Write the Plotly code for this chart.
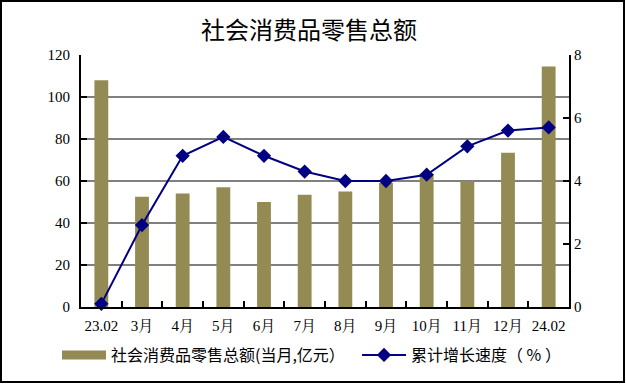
import plotly.graph_objects as go

categories = ["23.02", "3月", "4月", "5月", "6月", "7月", "8月", "9月", "10月", "11月", "12月", "24.02"]
monthly_sales = [108, 52.5, 54, 57, 50, 53.5, 55, 59, 63.5, 60, 73.5, 114.5]
cum_growth = [0.1, 2.6, 4.8, 5.4, 4.8, 4.3, 4.0, 4.0, 4.2, 5.1, 5.6, 5.7]

bar_name = "社会消费品零售总额(当月,亿元）\u00a0\u00a0"
line_name = "累计增长速度（ % ）"
title_text = "社会消费品零售总额"

BAR_COLOR = "#948A54"
LINE_COLOR = "#000080"
serif = "Liberation Serif, Noto Serif CJK SC, Noto Sans CJK SC, serif"
cjk = "Noto Sans CJK SC, sans-serif"

fig = go.Figure()
fig.add_trace(go.Bar(
    x=categories, y=monthly_sales, name=bar_name, showlegend=False,
    marker=dict(color=BAR_COLOR, line=dict(width=0)),
    width=0.34, yaxis="y",
))
# legend entry for the bars, drawn as a wide swatch like the original
fig.add_trace(go.Scatter(
    x=[categories[0]], y=[None], name=bar_name, mode="lines",
    line=dict(color=BAR_COLOR, width=9), yaxis="y", hoverinfo="skip",
))
fig.add_trace(go.Scatter(
    x=categories, y=cum_growth, name=line_name, mode="lines+markers",
    line=dict(color=LINE_COLOR, width=2),
    marker=dict(symbol="diamond", size=11, color=LINE_COLOR),
    yaxis="y2", cliponaxis=False,
))

W, H = 626, 384
L, R, T, B = 81, 57, 55, 77
pw, ph = W - L - R, H - T - B

def px_x(p):
    return (p - L) / pw

def px_y(p):
    return (H - B - p) / ph

fig.update_layout(
    width=W, height=H,
    margin=dict(l=L, r=R, t=T, b=B, pad=0, autoexpand=False),
    paper_bgcolor="white", plot_bgcolor="white",
    title=dict(text=title_text, x=px_x(309), xanchor="center", xref="paper",
               y=1 - 31 / H, yanchor="middle",
               font=dict(family=cjk, size=24, color="black")),
    showlegend=True,
    legend=dict(orientation="h", x=px_x(57), xanchor="left", y=px_y(355), yanchor="middle",
                font=dict(family=cjk, size=16, color="black"), itemwidth=44,
                bgcolor="rgba(0,0,0,0)", traceorder="normal"),
    xaxis=dict(
        type="category", showline=True, linecolor="black", linewidth=2,
        ticks="inside", ticklen=6, tickwidth=2, tickcolor="black", tickson="boundaries",
        showgrid=False, tickangle=0, ticklabelstandoff=4,
        tickfont=dict(family=serif, size=15, color="black"),
        range=[-0.5, 11.5],
    ),
    yaxis=dict(
        range=[0, 120], dtick=20, showline=True, linecolor="black", linewidth=2,
        ticks="inside", ticklen=6, tickwidth=2, tickcolor="black", ticklabelstandoff=6,
        showgrid=True, gridcolor="#808080", gridwidth=2, zeroline=False,
        tickfont=dict(family=serif, size=15, color="black"),
    ),
    yaxis2=dict(
        range=[0, 8], dtick=2, overlaying="y", side="right", showline=True,
        linecolor="black", linewidth=2, ticks="inside", ticklen=6, tickwidth=2,
        tickcolor="black", showgrid=False, zeroline=False,
        tickfont=dict(family=serif, size=15, color="black"),
    ),
    shapes=[dict(type="rect", xref="paper", yref="paper",
                 x0=px_x(1), x1=px_x(624), y0=px_y(382), y1=px_y(1),
                 line=dict(color="black", width=2), layer="below")],
)

fig.write_html("out.html", config={"displayModeBar": False},
               post_script="document.body.style.margin='0';document.body.style.overflow='hidden';")
